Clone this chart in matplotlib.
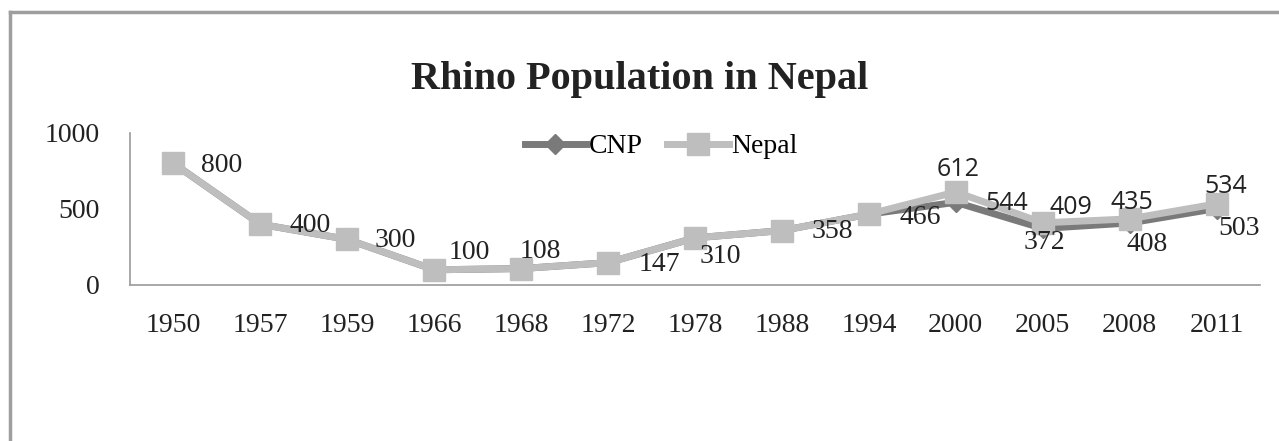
import matplotlib
matplotlib.use("Agg")
import matplotlib.pyplot as plt
import numpy as np
from matplotlib.lines import Line2D

# data
years = ["1950", "1957", "1959", "1966", "1968", "1972", "1978",
         "1988", "1994", "2000", "2005", "2008", "2011"]
nepal = [800, 400, 300, 100, 108, 147, 310, 358, 466, 612, 409, 435, 534]
cnp = [800, 400, 300, 100, 108, 147, 310, 358, 466, 544, 372, 408, 503]

# label offsets in pixels (dx, dy) and which ones use the sans font
nepal_offsets = [(48, -2), (50, -1), (48, -1), (35, 17), (19, 17), (51, -2), (25, -19),
                 (50, -1), (51, -3), (2, 22), (28, 15), (2, 16), (9, 17)]
nepal_sans = [False] * 9 + [True, True, True, True]
cnp_offsets = {9: (51, -1), 10: (2, -14), 11: (18, -22), 12: (23, -20)}
cnp_sans = {9: True, 10: False, 11: False, 12: False}

light = "#BEBEBE"
dark = "#7A7A7A"
serif = ["Liberation Serif", "DejaVu Serif"]
sans = ["Open Sans", "DejaVu Sans"]

fig = plt.figure(figsize=(12.79, 4.41), dpi=100)
ax = fig.add_axes([130 / 1279, 1 - 285 / 441, 1130 / 1279, 152 / 441])

x = np.arange(len(years))
ax.plot(x, cnp, color=dark, lw=5, marker="D", ms=10, mfc=dark, mec=dark, label="CNP", zorder=2)
ax.plot(x, nepal, color=light, lw=5, marker="s", ms=16, mfc=light, mec=light, label="Nepal", zorder=3)


def put_label(i, v, off, use_sans):
    ax.annotate(str(v), (x[i], v), xytext=off, textcoords="offset pixels",
                ha="center", va="center", fontsize=18 if use_sans else 20,
                family=sans if use_sans else serif, color="#222222", zorder=5)


for i, v in enumerate(nepal):
    put_label(i, v, nepal_offsets[i], nepal_sans[i])
for i, off in cnp_offsets.items():
    put_label(i, cnp[i], off, cnp_sans[i])

ax.set_xlim(-0.5, len(years) - 0.5)
ax.set_ylim(0, 1000)
ax.set_yticks([0, 500, 1000])
ax.set_xticks(x)
ax.set_xticklabels(years)
for lab in ax.get_xticklabels() + ax.get_yticklabels():
    lab.set_family(serif)
    lab.set_fontsize(20)
    lab.set_color("#222222")
ax.tick_params(axis="both", length=0)
ax.tick_params(axis="x", pad=20)
ax.tick_params(axis="y", pad=22)
for side in ["top", "right"]:
    ax.spines[side].set_visible(False)
for side in ["left", "bottom"]:
    ax.spines[side].set_color("#9A9A9A")
    ax.spines[side].set_linewidth(1.2)

ax.legend(loc="center", bbox_to_anchor=(0.47, 0.91), ncol=2, frameon=False,
          prop={"family": serif, "size": 20}, handlelength=2.2, columnspacing=0.9,
          handletextpad=0.1)

fig.text(0.5, 1 - 80 / 441, "Rhino Population in Nepal", ha="center", va="center",
         family=serif, fontsize=29, fontweight="bold", color="#222222")

# outer frame (top and left edges visible)
fig.add_artist(Line2D([10 / 1279, 1], [1 - 12 / 441, 1 - 12 / 441], transform=fig.transFigure,
                      color="#9E9E9E", lw=2.5))
fig.add_artist(Line2D([10 / 1279, 10 / 1279], [0, 1 - 12 / 441], transform=fig.transFigure,
                      color="#9E9E9E", lw=2.5))

fig.savefig("out.png", dpi=100)
